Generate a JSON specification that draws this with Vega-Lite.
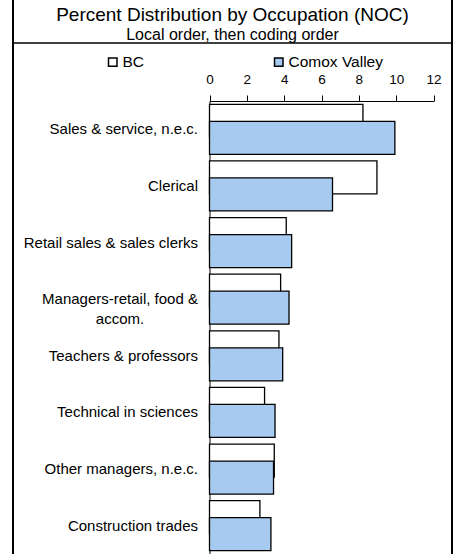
{
  "$schema": "https://vega.github.io/schema/vega-lite/v6.json",
  "width": 439,
  "height": 554,
  "autosize": {"type": "none"},
  "padding": {"left": 13, "right": 4, "top": 0, "bottom": 0},
  "background": "white",
  "config": {
    "font": "Liberation Sans",
    "view": {"stroke": "black", "strokeWidth": 2, "strokeDash": [0, 439, 554, 439, 554, 0]}
  },
  "title": {
    "text": "Percent Distribution by Occupation (NOC)",
    "subtitle": "Local order, then coding order",
    "font": "Liberation Sans",
    "subtitleFont": "Liberation Sans",
    "fontSize": 19,
    "subtitleFontSize": 16,
    "fontWeight": "normal",
    "color": "black",
    "subtitleColor": "black",
    "anchor": "middle",
    "offset": -43,
    "subtitlePadding": 2
  },
  "datasets": {
    "bars": [
      {"occupation": "Sales & service, n.e.c.", "series": "BC", "value": 8.22},
      {"occupation": "Clerical", "series": "BC", "value": 8.97},
      {"occupation": "Retail sales & sales clerks", "series": "BC", "value": 4.11},
      {"occupation": "Managers-retail, food & accom.", "series": "BC", "value": 3.81},
      {"occupation": "Teachers & professors", "series": "BC", "value": 3.72},
      {"occupation": "Technical in sciences", "series": "BC", "value": 2.95},
      {"occupation": "Other managers, n.e.c.", "series": "BC", "value": 3.47},
      {"occupation": "Construction trades", "series": "BC", "value": 2.7},
      {"occupation": "Sales & service, n.e.c.", "series": "Comox Valley", "value": 9.93},
      {"occupation": "Clerical", "series": "Comox Valley", "value": 6.59},
      {"occupation": "Retail sales & sales clerks", "series": "Comox Valley", "value": 4.4},
      {"occupation": "Managers-retail, food & accom.", "series": "Comox Valley", "value": 4.26},
      {"occupation": "Teachers & professors", "series": "Comox Valley", "value": 3.92},
      {"occupation": "Technical in sciences", "series": "Comox Valley", "value": 3.51},
      {"occupation": "Other managers, n.e.c.", "series": "Comox Valley", "value": 3.43},
      {"occupation": "Construction trades", "series": "Comox Valley", "value": 3.29}
    ]
  },
  "layer": [
    {
      "data": {"name": "bars"},
      "mark": {"type": "bar", "height": 33, "stroke": "black", "strokeWidth": 1.3},
      "encoding": {
        "y": {
          "field": "occupation",
          "type": "nominal",
          "sort": null,
          "scale": {"range": [101, 554], "paddingInner": 0, "paddingOuter": 0},
          "axis": {
            "title": null,
            "orient": "left",
            "offset": -196.5,
            "ticks": false,
            "grid": false,
            "domain": true,
            "domainColor": "black",
            "domainWidth": 1,
            "labelFontSize": 15,
            "labelColor": "black",
            "labelPadding": {"condition": {"test": "datum.value == 'Managers-retail, food & accom.'", "value": 90}, "value": 12},
            "labelLimit": 300,
            "labelLineHeight": 19.5,
            "labelAlign": {"condition": {"test": "datum.value == 'Managers-retail, food & accom.'", "value": "center"}, "value": "right"},
            "labelExpr": "datum.value == 'Managers-retail, food & accom.' ? ['Managers-retail, food &', 'accom.'] : datum.value"
          }
        },
        "yOffset": {
          "field": "series",
          "type": "nominal",
          "scale": {"paddingInner": 0, "paddingOuter": 0.665}
        },
        "x": {
          "field": "value",
          "type": "quantitative",
          "scale": {"domain": [0, 12], "range": [196.5, 420.5], "nice": false},
          "axis": {
            "title": null,
            "orient": "top",
            "offset": -101,
            "values": [0, 2, 4, 6, 8, 10, 12],
            "grid": false,
            "tickSize": 6,
            "tickColor": "black",
            "domainColor": "black",
            "labelFontSize": 13.5,
            "labelColor": "black",
            "labelPadding": 9,
            "labelFlush": false,
            "labelOverlap": false
          }
        },
        "fill": {
          "field": "series",
          "type": "nominal",
          "scale": {"domain": ["BC", "Comox Valley"], "range": ["white", "#a6caf0"]},
          "legend": {
            "title": null,
            "orient": "none",
            "legendX": 92,
            "legendY": 54,
            "direction": "horizontal",
            "symbolType": "square",
            "symbolSize": 72,
            "symbolStrokeColor": "black",
            "symbolStrokeWidth": 1.5,
            "labelFontSize": 15.5,
            "labelColor": "black",
            "labelOffset": 2,
            "columnPadding": 126,
            "padding": 0
          }
        }
      }
    },
    {
      "data": {"values": [{}]},
      "mark": {"type": "rule", "color": "black", "strokeWidth": 1.5},
      "encoding": {
        "y": {"datum": "Sales & service, n.e.c.", "bandPosition": -1.0247}
      }
    }
  ]
}
